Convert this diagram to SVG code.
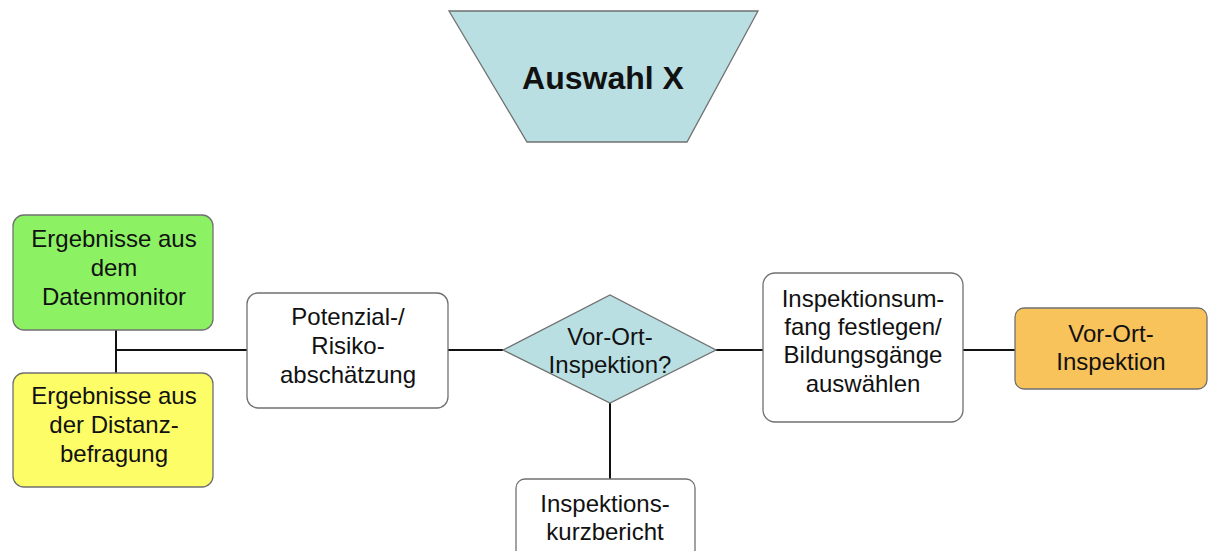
<svg xmlns="http://www.w3.org/2000/svg" width="1209" height="551" viewBox="0 0 1209 551">
<style>
.box{stroke:#707070;stroke-width:1.3}
.t{font-family:"Liberation Sans",Arial,sans-serif;font-size:24px;fill:#111;text-anchor:middle}
.title{font-family:"Liberation Sans",Arial,sans-serif;font-size:32px;font-weight:bold;fill:#111;text-anchor:middle}
.c{stroke:#111;stroke-width:2;fill:none}
</style>
<rect width="1209" height="551" fill="#fff"/>
<g id="connectors">
<line class="c" x1="116" y1="330" x2="116" y2="373"/>
<line class="c" x1="116" y1="350" x2="247" y2="350"/>
<line class="c" x1="448" y1="350" x2="503" y2="350"/>
<line class="c" x1="716" y1="350" x2="763" y2="350"/>
<line class="c" x1="963" y1="350" x2="1015" y2="350"/>
<line class="c" x1="610" y1="403" x2="610" y2="479"/>
</g>
<g id="auswahl">
<polygon class="box" points="449,11 758,11 687,142 527,142" fill="#b9dfe2"/>
<text class="title" x="603" y="89">Auswahl X</text>
</g>
<g id="datenmonitor">
<rect class="box" x="13" y="215" width="200" height="115" rx="11" fill="#8cf264"/>
<text class="t" x="114" y="247">Ergebnisse aus</text>
<text class="t" x="114" y="276">dem</text>
<text class="t" x="114" y="305">Datenmonitor</text>
</g>
<g id="distanzbefragung">
<rect class="box" x="13" y="373" width="200" height="114" rx="11" fill="#fdfd68"/>
<text class="t" x="114" y="404">Ergebnisse aus</text>
<text class="t" x="114" y="433">der Distanz-</text>
<text class="t" x="114" y="462">befragung</text>
</g>
<g id="potenzial">
<rect class="box" x="247" y="293" width="201" height="115" rx="11" fill="#fff"/>
<text class="t" x="348" y="325">Potenzial-/</text>
<text class="t" x="348" y="354">Risiko-</text>
<text class="t" x="348" y="383">abschätzung</text>
</g>
<g id="entscheidung">
<polygon class="box" points="503,350 610,295 716,350 610,403" fill="#b9dfe2"/>
<text class="t" x="610" y="345">Vor-Ort-</text>
<text class="t" x="610" y="373">Inspektion?</text>
</g>
<g id="kurzbericht">
<rect class="box" x="516" y="479" width="179" height="90" rx="9" fill="#fff"/>
<text class="t" x="605" y="512">Inspektions-</text>
<text class="t" x="605" y="540">kurzbericht</text>
</g>
<g id="umfang">
<rect class="box" x="763" y="273" width="200" height="149" rx="12" fill="#fff"/>
<text class="t" x="863" y="307">Inspektionsum-</text>
<text class="t" x="863" y="335">fang festlegen/</text>
<text class="t" x="863" y="363">Bildungsgänge</text>
<text class="t" x="863" y="392">auswählen</text>
</g>
<g id="vorort">
<rect class="box" x="1015" y="308" width="192" height="81" rx="9" fill="#f9c35c"/>
<text class="t" x="1111" y="342">Vor-Ort-</text>
<text class="t" x="1111" y="370">Inspektion</text>
</g>
</svg>
